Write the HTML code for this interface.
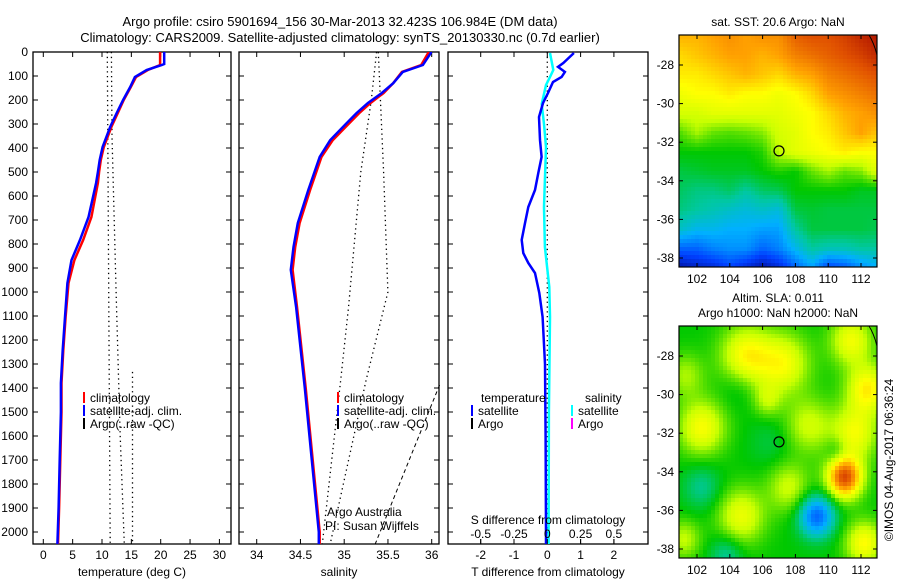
<!DOCTYPE html>
<html><head><meta charset="utf-8"><style>
html,body{margin:0;padding:0;background:#fff;}
svg{display:block;font-family:"Liberation Sans",sans-serif;}
text{font-size:12px;fill:#000;}
</style></head><body>
<svg id="fig" width="900" height="580" viewBox="0 0 900 580">
<g>
<text x="340" y="26" text-anchor="middle" style="font-size:13px">Argo profile: csiro 5901694_156 30-Mar-2013 32.423S 106.984E (DM data)</text>
<text x="340" y="42" text-anchor="middle" style="font-size:13px">Climatology: CARS2009. Satellite-adjusted climatology: synTS_20130330.nc (0.7d earlier)</text>
</g>
<g id="p1"></g>
<g id="p2"></g>
<g id="p3"></g>
<g id="m1"></g>
<g id="m2"></g>
<text transform="translate(893,460) rotate(-90)" text-anchor="middle">©IMOS 04-Aug-2017 06:36:24</text>
</svg>
<script>
// ---------- data ----------
const depthTicks=[0,100,200,300,400,500,600,700,800,900,1000,1100,1200,1300,1400,1500,1600,1700,1800,1900,2000];
const tempTicks=[0,5,10,15,20,25,30];
const salTicks=[34,34.5,35,35.5,36];
const salTickLabels=["34","34.5","35","35.5","36"];
const tdTicks=[-2,-1,0,1,2];
const sdTicks=[-0.5,-0.25,0,0.25,0.5];
const sdTickLabels=["-0.5","-0.25","0","0.25","0.5"];

const tDepth=[0,50,54,75,104,146,200,254,312,396,450,500,546,688,783,867,963,1104,1242,1379,1500,1700,1900,2050];
const tSat=[20.6,20.6,20.2,17.6,15.6,14.8,13.6,12.5,11.4,10.1,9.6,9.3,9.0,7.7,6.25,4.8,4.1,3.7,3.3,3.0,3.0,2.8,2.6,2.4];
const tClim=[19.9,19.9,19.9,17.8,15.8,14.9,13.7,12.7,11.6,10.3,9.8,9.5,9.3,8.2,6.8,5.3,4.3,3.8,3.4,3.1,3.1,2.9,2.7,2.5];
const tArgoA_d=[0,2050], tArgoA=[10.9,11.4];
const tArgoB_d=[0,350,1000,1600,2050], tArgoB=[11.6,11.7,12.4,13.1,13.8];
const tArgoC_d=[1333,2050], tArgoC=[15.2,15.2];

const sDepth=[0,4,54,83,130,171,213,255,296,367,437,575,713,813,908,1062,1400,1700,2000,2050];
const sSat=[35.99,35.99,35.9,35.67,35.56,35.43,35.27,35.14,35.03,34.84,34.72,34.59,34.47,34.42,34.39,34.45,34.55,34.63,34.71,34.71];
const sClim=[35.96,35.96,35.88,35.66,35.56,35.45,35.3,35.17,35.06,34.87,34.74,34.61,34.49,34.44,34.41,34.46,34.56,34.64,34.72,34.72];
const sLoD=[0,200,500,1060,1367,2050], sLo=[35.37,35.31,35.19,35.05,34.96,34.75];
const sHiD=[0,500,1000,1367,2050], sHi=[35.39,35.45,35.5,35.25,34.84];
const sDashD=[1387,2054], sDash=[36.09,35.35];

const dDepth=[4,46,62,83,104,125,171,213,271,367,437,504,575,646,713,783,838,879,921,1004,1104,1300,1600,2000,2050];
const tDiff=[0.8,0.48,0.32,0.53,0.43,0.17,0.02,-0.13,-0.25,-0.22,-0.17,-0.27,-0.37,-0.57,-0.67,-0.77,-0.72,-0.57,-0.37,-0.24,-0.14,-0.07,-0.05,-0.04,-0.04];
const sdDepth=[4,75,104,138,217,300,396,646,813,979,1104,1500,2000,2050];
const sDiff=[0.02,0.045,0.02,-0.01,-0.042,-0.025,-0.01,-0.025,-0.018,0.015,0.02,0.012,0.01,0.01];

// map grids (lon 101..113, lat -26.5..-38.5), value 0..1
const sstGrid=[
[0.78,0.78,0.8,0.82,0.8,0.82,0.82,0.88,0.9,0.9,0.92,0.95,0.97],
[0.74,0.76,0.78,0.8,0.8,0.78,0.8,0.84,0.86,0.88,0.9,0.92,0.95],
[0.72,0.72,0.74,0.76,0.78,0.76,0.74,0.78,0.8,0.84,0.86,0.88,0.9],
[0.68,0.7,0.7,0.72,0.7,0.7,0.68,0.7,0.74,0.8,0.82,0.84,0.86],
[0.64,0.64,0.66,0.66,0.66,0.66,0.66,0.68,0.7,0.74,0.78,0.8,0.82],
[0.55,0.6,0.56,0.55,0.56,0.58,0.64,0.66,0.7,0.72,0.76,0.8,0.76],
[0.5,0.5,0.5,0.5,0.5,0.52,0.62,0.66,0.68,0.7,0.72,0.7,0.7],
[0.46,0.47,0.48,0.48,0.48,0.5,0.52,0.5,0.56,0.6,0.56,0.58,0.66],
[0.44,0.42,0.42,0.44,0.4,0.44,0.45,0.5,0.5,0.5,0.5,0.48,0.48],
[0.42,0.4,0.38,0.36,0.34,0.36,0.34,0.46,0.47,0.46,0.46,0.46,0.46],
[0.36,0.32,0.32,0.3,0.3,0.28,0.28,0.4,0.46,0.46,0.46,0.46,0.45],
[0.2,0.2,0.24,0.26,0.26,0.2,0.24,0.32,0.4,0.38,0.38,0.4,0.4],
[0.05,0.08,0.1,0.15,0.1,0.05,0.1,0.2,0.28,0.15,0.18,0.25,0.3]];
const slaBase=0.5;
const slaBlobs=[ // lon, lat, amplitude, radius(deg)
[105,-28,0.2,1.1],[107.3,-28.4,0.18,1.1],[102.3,-31.7,0.19,1.0],[111.4,-27.2,0.18,0.9],
[112.4,-29.7,0.21,0.9],[111.6,-32,0.18,1.0],[108.8,-31.6,0.13,1.0],[104.7,-36.3,0.17,1.0],
[107.6,-34.8,0.13,0.9],[112.2,-37.7,0.2,0.8],[101.3,-29,0.1,0.8],[111,-34.3,0.4,0.75],
[109.3,-36.3,-0.3,0.75],[102.3,-34.8,-0.09,0.8],[103.8,-38.3,-0.1,0.7],[104.5,-29.6,-0.04,0.8],
[106.5,-32.5,-0.04,0.9],[110.5,-32.9,-0.07,0.5],[101.2,-37.5,0.12,0.7],[106.3,-30.3,0.1,0.6]];
const floatLon=107.0, floatLat=-32.45;

// ---------- helpers ----------
const NS="http://www.w3.org/2000/svg";
function mk(tag,attrs,parent){const e=document.createElementNS(NS,tag);for(const k in attrs)e.setAttribute(k,attrs[k]);parent.appendChild(e);return e;}
const TOP=52, BOT=544;
const Y=d=>TOP+0.24*d;

function panelFrame(g,L,R,xs,tickVals,tickLabels,title,leftLabels,nm){
  const box=mk('rect',{x:L,y:TOP,width:R-L,height:BOT-TOP,fill:'none',stroke:'#000','stroke-width':1.3},g);
  
  
  depthTicks.forEach((d,i)=>{
    mk('line',{x1:L,x2:L+5,y1:Y(d),y2:Y(d),stroke:'#000'},g);
    mk('line',{x1:R,x2:R-5,y1:Y(d),y2:Y(d),stroke:'#000'},g);
    if(leftLabels){const t=mk('text',{x:L-5,y:Y(d)+4,'text-anchor':'end'},g);t.textContent=d;
      
      }
  });
  tickVals.forEach((v,i)=>{
    const x=xs(v);
    mk('line',{x1:x,x2:x,y1:TOP,y2:TOP+5,stroke:'#000'},g);
    mk('line',{x1:x,x2:x,y1:BOT,y2:BOT-5,stroke:'#000'},g);
    const t=mk('text',{x:x,y:BOT+15,'text-anchor':'middle'},g);t.textContent=tickLabels[i];
    
    
  });
  const tt=mk('text',{x:(L+R)/2,y:576,'text-anchor':'middle'},g);tt.textContent=title;
  
  
}
function line(g,xs,vals,depths,color,w,dash,name){
  const pts=vals.map((v,i)=>xs(v).toFixed(1)+','+Y(depths[i]).toFixed(1)).join(' ');
  const p=mk('polyline',{points:pts,fill:'none',stroke:color,'stroke-width':w},g);
  if(dash)p.setAttribute('stroke-dasharray',dash);
  
  
}
function legend(g,x,y,color,label,name){
  mk('rect',{x:x,y:y-10,width:2,height:11,fill:color},g);
  const t=mk('text',{x:x+7,y:y},g);t.textContent=label;
  
  
}

// ---------- panel 1 ----------
{const g=document.getElementById('p1');const L=33,R=231;const xs=t=>43.3+5.87*t;
panelFrame(g,L,R,xs,tempTicks,tempTicks.map(String),'temperature (deg C)',true,'temperature');
line(g,xs,tArgoA,tArgoA_d,'#000',1.3,'1.3,3.5','argo-temp-line-a');
line(g,xs,tArgoB,tArgoB_d,'#000',1.3,'1.3,3.5','argo-temp-line-b');
line(g,xs,tArgoC,tArgoC_d,'#000',1.3,'1.3,3.5','argo-temp-line-c');
line(g,xs,tClim,tDepth,'#f00',2.5,null,'temp-climatology-line');
line(g,xs,tSat,tDepth,'#00f',2.5,null,'temp-satellite-line');
legend(g,83,402,'#f00','climatology','legend-climatology');
legend(g,83,415,'#00f','satellite-adj. clim.','legend-satellite');
legend(g,83,428,'#000','Argo(..raw -QC)','legend-argo');}

// ---------- panel 2 ----------
{const g=document.getElementById('p2');const L=239,R=439;const xs=s=>256.7+87.5*(s-34);
panelFrame(g,L,R,xs,salTicks,salTickLabels,'salinity',false,'salinity');
line(g,xs,sLo,sLoD,'#000',1.3,'1.3,3.5','sal-bound-low');
line(g,xs,sHi,sHiD,'#000',1.3,'1.3,3.5','sal-bound-high');
line(g,xs,sDash,sDashD,'#000',1,'4,3','sal-dashed-line');
line(g,xs,sClim,sDepth,'#f00',2.5,null,'sal-climatology-line');
line(g,xs,sSat,sDepth,'#00f',2.5,null,'sal-satellite-line');
legend(g,337,402,'#f00','climatology','legend-climatology');
legend(g,337,415,'#00f','satellite-adj. clim.','legend-satellite');
legend(g,337,428,'#000','Argo(..raw -QC)','legend-argo');
const a=mk('text',{x:327,y:516},g);a.textContent='Argo Australia';


const b=mk('text',{x:325,y:530},g);b.textContent='PI: Susan Wijffels';

}

// ---------- panel 3 ----------
{const g=document.getElementById('p3');const L=448,R=648;const xs=t=>547.3+33.3*t;const xsS=s=>547.3+33.3*4*s;
panelFrame(g,L,R,xs,tdTicks,tdTicks.map(String),'T difference from climatology',false,'difference');
line(g,xs,[0,0],[0,2050],'#000',1.3,'1.3,3.5','zero-line');
line(g,xsS,sDiff,sdDepth,'#0ff',2.5,null,'sal-diff-line');
line(g,xs,tDiff,dDepth,'#00f',2.5,null,'temp-diff-line');
const st=mk('text',{x:548,y:524,'text-anchor':'middle'},g);st.textContent='S difference from climatology';


sdTicks.forEach((v,i)=>{const t=mk('text',{x:xsS(v),y:538,'text-anchor':'middle'},g);t.textContent=sdTickLabels[i];
  
  
  mk('line',{x1:xsS(v),x2:xsS(v),y1:539,y2:544,stroke:'#000'},g);});
const h1=mk('text',{x:481,y:402},g);h1.textContent='temperature';


const h2=mk('text',{x:585,y:402},g);h2.textContent='salinity';


legend(g,471,415,'#00f','satellite','legend-temp-satellite');
legend(g,471,428,'#000','Argo','legend-temp-argo');
legend(g,571,415,'#0ff','satellite','legend-sal-satellite');
legend(g,571,428,'#f0f','Argo','legend-sal-argo');}

// ---------- maps ----------
const stops=[[0,[0,0,128]],[0.15,[0,64,255]],[0.3,[0,176,255]],[0.4,[0,200,160]],[0.5,[0,200,0]],[0.62,[200,255,0]],[0.7,[255,255,0]],[0.8,[255,160,0]],[0.9,[224,80,0]],[1,[160,0,0]]];
function cmap(v){v=Math.max(0,Math.min(1,v));for(let i=1;i<stops.length;i++){if(v<=stops[i][0]){const a=stops[i-1],b=stops[i];const f=(v-a[0])/(b[0]-a[0]);return 'rgb('+a[1].map((c,k)=>Math.round(c+(b[1][k]-c)*f)).join(',')+')';}}return 'rgb(160,0,0)';}
function sstVal(lon,lat){const c=Math.max(0,Math.min(12,lon-101)),r=Math.max(0,Math.min(12,-26.5-lat));
  const c0=Math.min(11,Math.floor(c)),r0=Math.min(11,Math.floor(r)),fc=c-c0,fr=r-r0;
  const a=sstGrid[r0][c0],b=sstGrid[r0][c0+1],d=sstGrid[r0+1][c0],e=sstGrid[r0+1][c0+1];
  return a*(1-fc)*(1-fr)+b*fc*(1-fr)+d*(1-fc)*fr+e*fc*fr;}
function slaVal(lon,lat){let v=slaBase;slaBlobs.forEach(b=>{const dx=lon-b[0],dy=lat-b[1];v+=b[2]*Math.exp(-(dx*dx+dy*dy)/(2*b[3]*b[3]));});return v;}
function drawMap(id,top,fn,titles,tname){
  const g=document.getElementById(id);const L=679,R=877,H=232;
  const X=lon=>697+16.4*(lon-102);
  const yl=lat=>(top+30)+19.3*(-28-lat);
  const cell=4;
  for(let py=top;py<top+H;py+=cell){for(let px=L;px<R;px+=cell){
    const lon=102+(px+cell/2-697)/16.4, lat=-28-(py+cell/2-(top+30))/19.3;
    const r=mk('rect',{x:px,y:py,width:Math.min(cell,R-px)+0.3,height:Math.min(cell,top+H-py)+0.3,fill:cmap(fn(lon,lat))},g);
    
    }}
  const fr=mk('rect',{x:L,y:top,width:R-L,height:H,fill:'none',stroke:'#000','stroke-width':1.2},g);
  
  
  mk('path',{d:`M${R-8},${top} Q${R-3},${top+8} ${R},${top+20}`,fill:'none',stroke:'#000','stroke-width':1},g);
  const c=mk('circle',{cx:X(floatLon),cy:yl(floatLat),r:5,fill:'none',stroke:'#000','stroke-width':1.2},g);
  
  
  [102,104,106,108,110,112].forEach(lon=>{const x=X(lon);
    mk('line',{x1:x,x2:x,y1:top,y2:top+4,stroke:'#000'},g);mk('line',{x1:x,x2:x,y1:top+H,y2:top+H-4,stroke:'#000'},g);
    const t=mk('text',{x:x,y:top+H+16,'text-anchor':'middle'},g);t.textContent=lon;
    
    });
  [-28,-30,-32,-34,-36,-38].forEach(lat=>{const y=yl(lat);
    mk('line',{x1:L,x2:L+4,y1:y,y2:y,stroke:'#000'},g);mk('line',{x1:R,x2:R-4,y1:y,y2:y,stroke:'#000'},g);
    const t=mk('text',{x:L-5,y:y+4,'text-anchor':'end'},g);t.textContent=lat;
    
    });
  titles.forEach((s,i)=>{const t=mk('text',{x:778,y:titles.length===1?top-9:top-24+i*15,'text-anchor':'middle'},g);t.textContent=s;
    
    });
}
drawMap('m1',35,sstVal,['sat. SST: 20.6 Argo: NaN'],'sst-map');
drawMap('m2',326,slaVal,['Altim. SLA: 0.011','Argo h1000: NaN h2000: NaN'],'sla-map');
</script>
</body></html>
